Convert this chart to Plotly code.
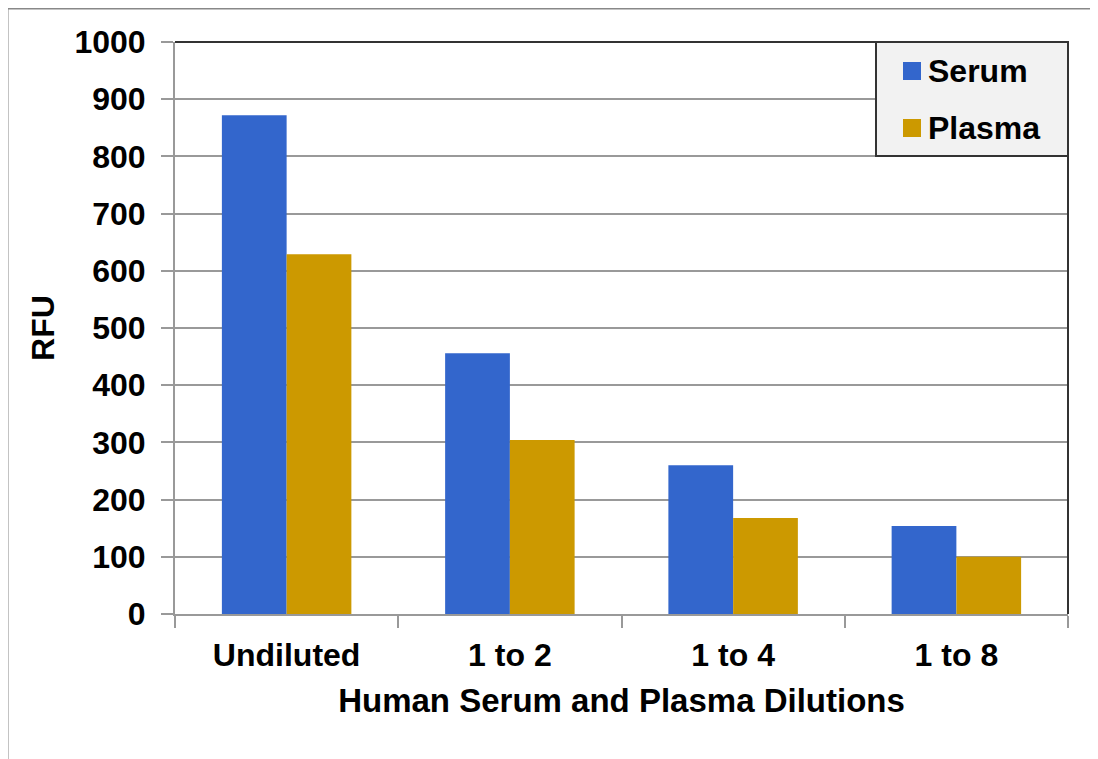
import plotly.graph_objects as go

categories = ["Undiluted", "1 to 2", "1 to 4", "1 to 8"]
serum = [872, 456, 260, 154]
plasma = [629, 304, 168, 100]
y_ticks = [0, 100, 200, 300, 400, 500, 600, 700, 800, 900, 1000]
series_names = ["Serum", "Plasma"]
series_colors = ["#3366CC", "#CC9900"]

FONT = "Liberation Sans"
OFF = 8  # page body offset
W, H = 1090, 751
L, R, T, B = 167, 30, 34, 145
pw, ph = W - L - R, H - T - B


def px(x):
    return (x - OFF - L) / pw


def py(y):
    return (H - B - (y - OFF)) / ph


fig = go.Figure()
for name, vals, col in zip(series_names, [serum, plasma], series_colors):
    fig.add_trace(go.Bar(name=name, x=categories, y=vals,
                         marker=dict(color=col, line=dict(width=0)),
                         showlegend=False))

shapes = [
    # outer frame (top and left only)
    dict(type="line", xref="paper", yref="paper", x0=px(7), x1=px(1098), y0=py(8), y1=py(8),
         line=dict(color="#888888", width=3)),
    dict(type="line", xref="paper", yref="paper", x0=px(7), x1=px(7), y0=py(8), y1=py(759),
         line=dict(color="#888888", width=3)),
    # plot area top and right borders
    dict(type="line", xref="paper", yref="paper", x0=0, x1=1, y0=1, y1=1,
         line=dict(color="#333333", width=2)),
    dict(type="line", xref="paper", yref="paper", x0=1, x1=1, y0=0, y1=1,
         line=dict(color="#333333", width=2)),
    # legend box
    dict(type="rect", xref="paper", yref="paper", x0=px(876), x1=px(1068), y0=py(156), y1=py(42),
         fillcolor="#F2F2F2", line=dict(color="#333333", width=2)),
]
annotations = []
legend_rows = [71, 128]
for name, col, yc in zip(series_names, series_colors, legend_rows):
    shapes.append(dict(type="rect", xref="paper", yref="paper",
                       x0=px(903), x1=px(921), y0=py(yc + 9), y1=py(yc - 9),
                       fillcolor=col, line=dict(width=0)))
    annotations.append(dict(text=name, xref="paper", yref="paper", x=px(926), y=py(yc),
                            xanchor="left", yanchor="middle", showarrow=False,
                            font=dict(family=FONT, size=32, color="black", weight="bold")))

fig.update_layout(
    width=W, height=H,
    margin=dict(l=L, r=R, t=T, b=B, autoexpand=False),
    paper_bgcolor="white", plot_bgcolor="white",
    barmode="group", bargap=0.42, bargroupgap=0,
    font=dict(family=FONT, size=32, color="black"),
    showlegend=False,
    xaxis=dict(
        tickson="boundaries", ticks="outside", ticklen=12, tickcolor="#999999", tickwidth=2,
        showline=True, linecolor="#999999", linewidth=2, ticklabelstandoff=12,
        tickfont=dict(family=FONT, size=32, color="black", weight="bold"),
        title=dict(text="Human Serum and Plasma Dilutions", standoff=16,
                   font=dict(family=FONT, size=33, color="black", weight="bold")),
    ),
    yaxis=dict(
        range=[0, 1000], tickvals=y_ticks, ticks="outside", ticklen=12,
        tickcolor="#999999", tickwidth=2, ticklabelstandoff=9,
        showline=True, linecolor="#999999", linewidth=2,
        showgrid=True, gridcolor="#999999", gridwidth=1.5,
        tickfont=dict(family=FONT, size=32, color="black", weight="bold"),
        title=dict(text="RFU", standoff=10,
                   font=dict(family=FONT, size=32, color="black", weight="bold")),
        zeroline=False,
    ),
    shapes=shapes,
    annotations=annotations,
)

fig.write_html("out.html")
